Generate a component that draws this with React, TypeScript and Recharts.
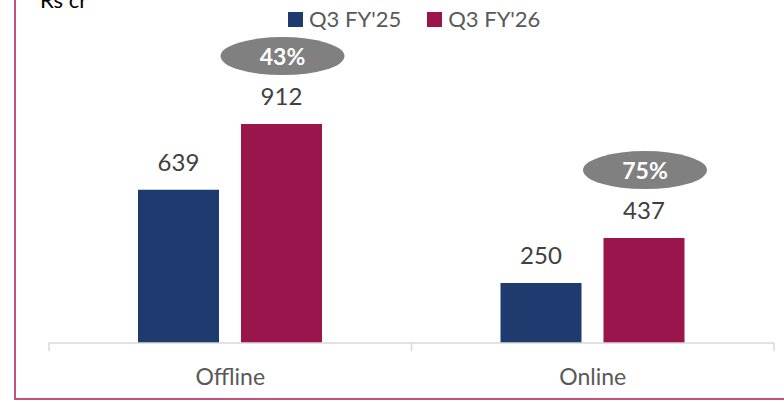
import { Bar, BarChart, LabelList, ReferenceLine, XAxis, YAxis } from "recharts";

const categories = ["Offline", "Online"];
const q3fy25 = [639, 250];
const q3fy26 = [912, 437];
const growth = ["43%", "75%"];
const seriesNames = ["Q3 FY'25", "Q3 FY'26"];

const BLUE = "#1F3A6E";
const MAROON = "#9B154D";
const FONT = "Lato, 'Noto Sans', sans-serif";

const data = categories.map((name, i) => ({
    name,
    fy25: q3fy25[i],
    fy26: q3fy26[i],
    growth: growth[i],
}));

function GrowthBubble(props: any) {
    const { x, y, width, value } = props;
    const cx = Number(x) + Number(width) / 2 + 1;
    const cy = Number(y) - 68;
    return (
        <g>
            <ellipse cx={cx} cy={cy} rx={62} ry={19} fill="#808080" />
            <text
                x={cx}
                y={cy}
                textAnchor="middle"
                dominantBaseline="central"
                fill="#ffffff"
                fontSize={23}
                fontWeight={700}
                fontFamily={FONT}
            >
                {value}
            </text>
        </g>
    );
}

export default function App() {
    return (
        <div
            style={{
                position: "absolute",
                left: 0,
                top: 0,
                width: 784,
                height: 403,
                background: "#fff",
                fontFamily: FONT,
                overflow: "hidden",
            }}
        >
            <div
                style={{
                    position: "absolute",
                    left: 14,
                    top: 0,
                    width: 770,
                    height: 400,
                    borderLeft: "2px solid #C4507F",
                    borderBottom: "2px solid #C4507F",
                    boxSizing: "border-box",
                }}
            />
            <div
                style={{
                    position: "absolute",
                    left: 40,
                    top: -13,
                    fontSize: 22,
                    color: "#000",
                    lineHeight: "26px",
                }}
            >
                Rs cr
            </div>
            <div
                style={{
                    position: "absolute",
                    left: 288,
                    top: 6,
                    display: "flex",
                    alignItems: "center",
                    fontSize: 22,
                    color: "#595959",
                    lineHeight: "26px",
                }}
            >
                {[BLUE, MAROON].map((c, i) => (
                    <span
                        key={i}
                        style={{
                            display: "flex",
                            alignItems: "center",
                            marginRight: i === 0 ? 26 : 0,
                        }}
                    >
                        <span
                            style={{
                                width: 15,
                                height: 15,
                                background: c,
                                marginRight: 6,
                                display: "inline-block",
                            }}
                        />
                        {seriesNames[i]}
                    </span>
                ))}
            </div>
            <div style={{ position: "absolute", left: 0, top: 0 }}>
                <BarChart
                    width={784}
                    height={403}
                    data={data}
                    margin={{ top: 103, right: 10, bottom: 0, left: 49 }}
                    barGap={22}
                    barSize={81}
                >
                    <YAxis hide domain={[0, 1000]} />
                    <XAxis
                        dataKey="name"
                        height={60}
                        axisLine={{ stroke: "#D9D9D9", strokeWidth: 1.5 }}
                        tickLine={false}
                        tickMargin={20}
                        tick={{ fill: "#595959", fontSize: 23, fontFamily: FONT }}
                    />
                    <Bar dataKey="fy25" fill={BLUE} isAnimationActive={false}>
                        <LabelList
                            dataKey="fy25"
                            position="top"
                            offset={19}
                            fill="#404040"
                            fontSize={24}
                            fontFamily={FONT}
                        />
                    </Bar>
                    <Bar dataKey="fy26" fill={MAROON} isAnimationActive={false}>
                        <LabelList
                            dataKey="fy26"
                            position="top"
                            offset={19}
                            fill="#404040"
                            fontSize={24}
                            fontFamily={FONT}
                        />
                        <LabelList dataKey="growth" content={GrowthBubble} />
                    </Bar>
                    {[
                        { x: categories[0], pos: "start" },
                        { x: categories[1], pos: "start" },
                        { x: categories[1], pos: "end" },
                    ].map((t, i) => (
                        <ReferenceLine
                            key={i}
                            segment={[
                                { x: t.x, y: 0 },
                                { x: t.x, y: -34 },
                            ]}
                            position={t.pos as any}
                            stroke="#D9D9D9"
                            strokeWidth={1.5}
                            ifOverflow="visible"
                        />
                    ))}
                </BarChart>
            </div>
        </div>
    );
}
